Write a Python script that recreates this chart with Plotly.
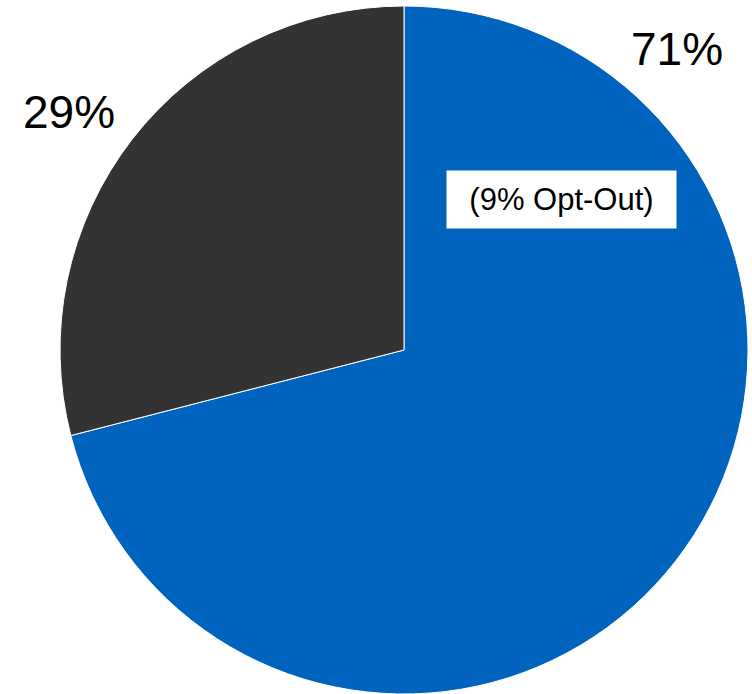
import plotly.graph_objects as go

labels = ["Opt-In", "Other"]
values = [71, 29]
colors = ["#0063BE", "#333333"]
note_text = "(9% Opt-Out)"

W, H = 752, 694

fig = go.Figure(go.Pie(
    labels=labels,
    values=values,
    sort=False,
    direction="clockwise",
    rotation=0,
    marker=dict(colors=colors, line=dict(color="white", width=1)),
    textinfo="none",
    hoverinfo="label+percent",
    domain=dict(x=[60 / W, 748 / W], y=[0, 688 / H]),
    showlegend=False,
))

font = "Liberation Sans, Arial, sans-serif"
fig.add_annotation(text=f"{values[0]}%", x=677 / W, y=1 - 49 / H, xref="paper", yref="paper",
                   xanchor="center", yanchor="middle", showarrow=False,
                   font=dict(family=font, size=46, color="black"))
fig.add_annotation(text=f"{values[1]}%", x=69 / W, y=1 - 112 / H, xref="paper", yref="paper",
                   xanchor="center", yanchor="middle", showarrow=False,
                   font=dict(family=font, size=46, color="black"))
fig.add_annotation(text=note_text, x=561.5 / W, y=1 - 199.5 / H, xref="paper", yref="paper",
                   xanchor="center", yanchor="middle", showarrow=False,
                   bgcolor="white", width=225, height=53, borderpad=2,
                   font=dict(family=font, size=31, color="black"))

fig.update_layout(width=W, height=H, margin=dict(l=0, r=0, t=0, b=0),
                  paper_bgcolor="white", plot_bgcolor="white")

fig.write_html("out.html", config={"displayModeBar": False},
               post_script="document.body.style.margin='0';document.body.style.overflow='hidden';")
